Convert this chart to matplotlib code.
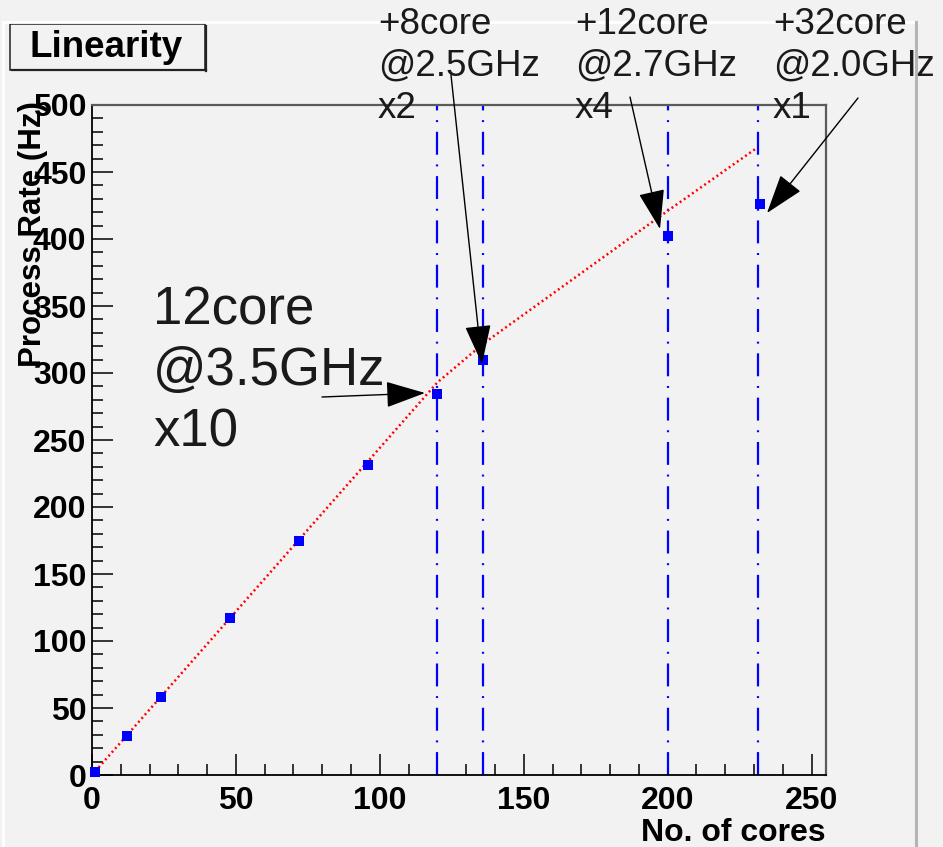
import matplotlib
matplotlib.use("Agg")
import matplotlib.pyplot as plt
from matplotlib.lines import Line2D
from matplotlib.patches import Rectangle
from matplotlib.ticker import MultipleLocator

# ---- data ----
cores = [1, 12, 24, 48, 72, 96, 120, 136, 200, 232]
rate = [2, 29, 58, 117, 175, 231, 284, 310, 402, 426]
expect_x = [0, 120, 136, 200, 231]
expect_y = [0, 293, 322, 421, 468]
boundaries = [120, 136, 200, 231.5]
x_ticks = [0, 50, 100, 150, 200, 250]
y_ticks = [0, 50, 100, 150, 200, 250, 300, 350, 400, 450, 500]
title = "Linearity"
xlabel = "No. of cores"
ylabel = "Process Rate (Hz)"

W, H = 943, 847
plt.rcParams['font.family'] = ['Liberation Sans', 'DejaVu Sans']
plt.rcParams['lines.scale_dashes'] = False
BG = '#f2f2f2'

def fx(x):
    return x / W

def fy(y):
    return 1 - y / H

fig = plt.figure(figsize=(W / 100, H / 100), dpi=100, facecolor=BG)
ax = fig.add_axes([fx(92), fy(775), (826 - 92) / W, (775 - 105) / H])
ax.set_facecolor(BG)
ax.set_xlim(0, 255)
ax.set_ylim(0, 500)

# boundaries (blue dash-dot)
for b in boundaries:
    ax.axvline(b, color='#0000ff', lw=1.6, linestyle=(0, (16.5, 7.0, 1.4, 7.0)), zorder=2)

# expectation line (red dotted)
ax.plot(expect_x, expect_y, color='#ff0000', lw=1.8, linestyle=(0, (1.4, 2.2)), zorder=3)

# measured points
ax.plot(cores, rate, linestyle='none', marker='s', markersize=7, color='#0000ff',
        markeredgewidth=0, zorder=4, clip_on=False)

# axes styling
ax.set_xticks(x_ticks)
ax.set_yticks(y_ticks)
ax.xaxis.set_minor_locator(MultipleLocator(10))
ax.yaxis.set_minor_locator(MultipleLocator(10))
ax.tick_params(which='both', direction='in', top=False, right=False, width=1.1, color='black')
ax.tick_params(which='major', length=15)
ax.tick_params(which='minor', length=8)
ax.tick_params(axis='x', which='major', pad=8, labelsize=23)
ax.tick_params(axis='y', which='major', pad=4, labelsize=23)
for lab in ax.get_xticklabels() + ax.get_yticklabels():
    lab.set_fontweight('bold')
for s in ['left', 'bottom']:
    ax.spines[s].set_color('black')
    ax.spines[s].set_linewidth(1.3)
for s in ['top', 'right']:
    ax.spines[s].set_color('#5a5a5a')
    ax.spines[s].set_linewidth(1.6)

fig.text(fx(826), fy(841), xlabel, ha='right', va='baseline', fontsize=23, fontweight='bold')
fig.text(fx(18), fy(101), ylabel, ha='right', va='top', rotation=90,
         fontsize=22.5, fontweight='bold', rotation_mode='anchor')

# pad bevel
fig.add_artist(Line2D([fx(3), fx(917)], [fy(22), fy(22)], color='white', lw=2))
fig.add_artist(Line2D([fx(3), fx(3)], [fy(22), fy(847)], color='white', lw=2))
fig.add_artist(Line2D([fx(916), fx(916)], [fy(22), fy(847)], color='#b4b4b4', lw=2.2))

# title box
fig.add_artist(Rectangle((fx(10), fy(70)), (205 - 10) / W, (70 - 24) / H,
                         transform=fig.transFigure, fill=False, ec='#222222', lw=1.1))
fig.add_artist(Line2D([fx(12), fx(206)], [fy(70.5), fy(70.5)], color='#222222', lw=1.6))
fig.add_artist(Line2D([fx(205.5), fx(205.5)], [fy(26), fy(71)], color='#222222', lw=1.6))
fig.text(fx(106), fy(57), title, ha='center', va='baseline', fontsize=26.5, fontweight='bold')

# annotations
big = ["12core", "@3.5GHz", "x10"]
for i, t in enumerate(big):
    fig.text(fx(153), fy(324 + 61 * i), t, ha='left', va='baseline', fontsize=38, color='#1a1a1a')

small = {378: ["+8core", "@2.5GHz", "x2"],
         575: ["+12core", "@2.7GHz", "x4"],
         773: ["+32core", "@2.0GHz", "x1"]}
for x0, lines in small.items():
    for i, t in enumerate(lines):
        fig.text(fx(x0), fy(34 + 42 * i), t, ha='left', va='baseline', fontsize=26.5, color='#1a1a1a')

arrows = [((322, 397), (425, 393)),
          ((451, 75), (482, 364)),
          ((630, 97), (660, 229)),
          ((858, 98), (767, 213))]
for tail, tip in arrows:
    ax.annotate('', xy=(fx(tip[0]), fy(tip[1])), xycoords='figure fraction',
                xytext=(fx(tail[0]), fy(tail[1])), textcoords='figure fraction',
                arrowprops=dict(arrowstyle='-|>,head_length=2.5,head_width=0.83',
                                mutation_scale=10,
                                color='black', lw=1.0, shrinkA=0, shrinkB=0),
                annotation_clip=False, zorder=6)

fig.savefig('out.png', dpi=100, facecolor=BG)
